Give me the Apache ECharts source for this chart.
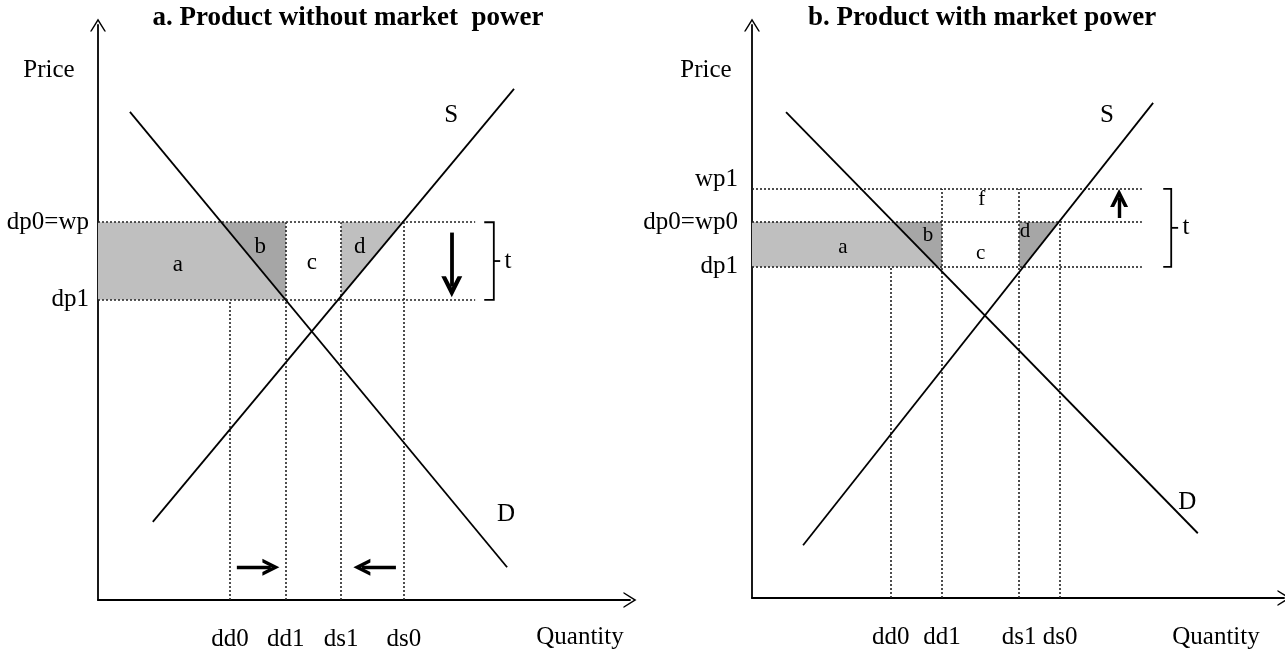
<!DOCTYPE html>
<html>
<head>
<meta charset="utf-8">
<script src="https://cdn.jsdelivr.net/npm/echarts@6/dist/echarts.min.js"></script>
<style>
  html, body { margin: 0; padding: 0; background: #fff; }
  #main { width: 1285px; height: 653px; }
</style>
</head>
<body>
<div id="main"></div>
<script>
// both panels use axis units 0-100 on each axis

// a. product without market power
var priceNamesA = ['dp0=wp', 'dp1'];
var priceLevelsA = [65.7, 52.2];
var qtyNamesA = ['dd0', 'dd1', 'ds1', 'ds0'];
var qtyLevelsA = [24.8, 35.3, 45.7, 57.5];
var qtyTopA = [1, 0, 0, 0];          // which price level each dotted vertical reaches
var demandA = [[6.0, 84.9], [76.9, 5.7]];
var supplyA = [[10.3, 13.6], [78.2, 88.9]];
var letterNamesA = ['a', 'b', 'c', 'd'];
var letterPosA = [[15.0, 58.3], [30.5, 61.4], [40.2, 58.6], [49.2, 61.4]];

// b. product with market power
var priceNamesB = ['wp1', 'dp0=wp0', 'dp1'];
var priceLevelsB = [71.4, 65.6, 57.8];
var qtyNamesB = ['dd0', 'dd1', 'ds1', 'ds0'];
var qtyLevelsB = [26.1, 35.7, 50.2, 57.9];
var qtyTopB = [2, 0, 0, 1];
var demandB = [[6.4, 84.8], [83.8, 11.3]];
var supplyB = [[9.6, 9.2], [75.4, 86.4]];
var letterNamesB = ['f', 'a', 'b', 'c', 'd'];
var letterPosB = [[43.2, 69.5], [17.1, 61.1], [33.1, 63.2], [43.0, 60.2], [51.3, 63.9]];

var FONT = 'Liberation Serif';
var LIGHT = '#bfbfbf';
var DARK = '#a6a6a6';
var axisArrow = 'path://M0,13 L8,0 L16,13 L14.4,13 L8,2.8 L1.6,13 Z';
var boldArrow = 'path://M0,15 L9,0 L18,15 L14,15 L9,6.8 L4,15 Z';

function xAt(line, y) {
  var p = line[0], q = line[1];
  return p[0] + (y - p[1]) * (q[0] - p[0]) / (q[1] - p[1]);
}

function nameOf(levels, names, v) {
  var i = levels.indexOf(v);
  return i >= 0 ? names[i] : '';
}

function xAxisFor(i, levels, names) {
  return {
    type: 'value', gridIndex: i, min: 0, max: 100,
    splitLine: { show: false },
    axisTick: { show: false },
    axisLine: { onZero: false, symbol: ['none', axisArrow], symbolSize: [16, 13],
      lineStyle: { color: '#000', width: 1.8 } },
    axisLabel: {
      customValues: levels, margin: 27, color: '#000',
      fontFamily: FONT, fontSize: 25,
      formatter: function (v) { return nameOf(levels, names, v); }
    }
  };
}

function yAxisFor(i, levels, names, margin) {
  return {
    type: 'value', gridIndex: i, min: 0, max: 100,
    splitLine: { show: false },
    axisTick: { show: false },
    axisLine: { onZero: false, symbol: ['none', axisArrow], symbolSize: [16, 13],
      lineStyle: { color: '#000', width: 1.8 } },
    axisLabel: {
      customValues: levels, margin: margin, color: '#000',
      fontFamily: FONT, fontSize: 25,
      formatter: function (v) {
        var n = nameOf(levels, names, v);
        return n === 'wp1' ? '{up|' + n + '}' : n;
      },
      rich: { up: { fontFamily: FONT, fontSize: 25, color: '#000', padding: [0, 0, 18, 0] } }
    }
  };
}

function panelSeries(i, p) {
  var top = p.prices[p.topIdx], bottom = p.prices[p.prices.length - 1];
  var dp0 = p.prices[p.dp0Idx];
  var dd1 = p.qty[1], ds1 = p.qty[2];
  var regions = [
    { pts: [[0, bottom], [0, dp0], [xAt(p.demand, dp0), dp0], [xAt(p.demand, bottom), bottom]], fill: LIGHT },
    { pts: [[xAt(p.demand, dp0), dp0], [dd1, dp0], [dd1, bottom], [xAt(p.demand, bottom), bottom]], fill: DARK },
    { pts: [[ds1, dp0], [xAt(p.supply, dp0), dp0], [xAt(p.supply, bottom), bottom], [ds1, bottom]], fill: p.dFill }
  ];

  var dots = [];
  p.prices.forEach(function (lv) { dots.push({ coords: [[0, lv], [p.dotEnd, lv]] }); });
  p.qty.forEach(function (q, k) { dots.push({ coords: [[q, 0], [q, p.prices[p.qtyTop[k]]]] }); });

  var mid = (top + bottom) / 2;
  var br = p.bracket;
  var txt = { color: '#000', fontFamily: FONT, textBorderWidth: 0 };
  var list = [
    {
      type: 'custom', xAxisIndex: i, yAxisIndex: i, z: 1, silent: true,
      data: regions.map(function (r, k) { return [r.pts[0][0], r.pts[0][1], k]; }),
      renderItem: function (params, api) {
        var r = regions[api.value(2)];
        return {
          type: 'polygon',
          shape: { points: r.pts.map(function (pt) { return api.coord(pt); }) },
          style: { fill: r.fill }
        };
      }
    },
    {
      type: 'lines', coordinateSystem: 'cartesian2d', xAxisIndex: i, yAxisIndex: i, z: 2,
      lineStyle: { color: '#222', width: 1.6, type: [2, 2], opacity: 1 },
      data: dots
    },
    {
      type: 'line', xAxisIndex: i, yAxisIndex: i, z: 3, symbol: 'none',
      lineStyle: { color: '#000', width: 1.8 }, data: p.demand
    },
    {
      type: 'line', xAxisIndex: i, yAxisIndex: i, z: 3, symbol: 'none',
      lineStyle: { color: '#000', width: 1.8 }, data: p.supply
    },
    {
      type: 'lines', coordinateSystem: 'cartesian2d', xAxisIndex: i, yAxisIndex: i, z: 3,
      polyline: true,
      lineStyle: { color: '#000', width: 1.8, opacity: 1 },
      data: [
        { coords: [[br[0], top], [br[1], top], [br[1], bottom], [br[0], bottom]] },
        { coords: [[br[1], mid], [br[2], mid]] }
      ]
    },
    {
      type: 'scatter', xAxisIndex: i, yAxisIndex: i, z: 5, symbolSize: 0, silent: true,
      itemStyle: { opacity: 1 },
      label: Object.assign({ show: true, position: 'inside', formatter: '{b}', fontSize: p.letterSize }, txt),
      data: p.letterPos.map(function (pos, k) { return { name: p.letterNames[k], value: pos }; })
        .concat([
          { name: 'S', value: p.sPos, label: { fontSize: 25 } },
          { name: 'D', value: p.dPos, label: { fontSize: 25 } },
          { name: 't', value: [br[2] + 0.8, mid], label: { fontSize: 25, position: 'right', distance: 0 } }
        ])
    }
  ];
  p.arrows.forEach(function (a) {
    list.push({
      type: 'lines', coordinateSystem: 'cartesian2d', xAxisIndex: i, yAxisIndex: i, z: 4,
      symbol: ['none', boldArrow], symbolSize: a.size,
      lineStyle: { color: '#000', width: a.width, opacity: 1 },
      data: [{ coords: a.coords }]
    });
  });
  return list;
}

var seriesA = panelSeries(0, {
  prices: priceLevelsA, qty: qtyLevelsA, qtyTop: qtyTopA, topIdx: 0, dp0Idx: 0,
  demand: demandA, supply: supplyA, dFill: LIGHT, dotEnd: 70.9,
  bracket: [72.6, 74.4, 75.6],
  arrows: [
    { coords: [[66.5, priceLevelsA[0] - 1.8], [66.5, priceLevelsA[1] + 2.3]], size: 21, width: 3.8 },
    { coords: [[qtyLevelsA[0] + 1.3, 5.7], [qtyLevelsA[1] - 2.8], ], size: 17, width: 3.4 },
    { coords: [[qtyLevelsA[3] - 1.5, 5.7], [qtyLevelsA[2] + 3.9, 5.7]], size: 17, width: 3.4 }
  ],
  letterNames: letterNamesA, letterPos: letterPosA, letterSize: 23,
  sPos: [66.4, 84.3], dPos: [76.7, 14.8]
});
seriesA[7].data[0].coords[1] = [qtyLevelsA[1] - 2.8, 5.7];

var seriesB = panelSeries(1, {
  prices: priceLevelsB, qty: qtyLevelsB, qtyTop: qtyTopB, topIdx: 0, dp0Idx: 1,
  demand: demandB, supply: supplyB, dFill: DARK, dotEnd: 73.3,
  bracket: [77.3, 78.8, 80.1],
  arrows: [
    { coords: [[69.0, priceLevelsB[1] + 0.7], [69.0, priceLevelsB[0] - 1.6]], size: 18, width: 3.4 }
  ],
  letterNames: letterNamesB, letterPos: letterPosB, letterSize: 21,
  sPos: [66.7, 84.3], dPos: [81.8, 16.6]
});

var chart = echarts.init(document.getElementById('main'));
chart.setOption({
  animation: false,
  backgroundColor: '#fff',
  title: [
    { text: 'a. Product without market  power', left: 343, top: 0, textAlign: 'center',
      textStyle: { fontFamily: FONT, fontSize: 27, fontWeight: 'bold', color: '#000' } },
    { text: 'b. Product with market power', left: 977, top: 0, textAlign: 'center',
      textStyle: { fontFamily: FONT, fontSize: 27, fontWeight: 'bold', color: '#000' } }
  ],
  grid: [
    { left: 98, top: 25, width: 532, height: 575 },
    { left: 752, top: 25, width: 532, height: 573 }
  ],
  xAxis: [
    xAxisFor(0, qtyLevelsA, qtyNamesA),
    xAxisFor(1, qtyLevelsB, qtyNamesB)
  ],
  yAxis: [
    yAxisFor(0, priceLevelsA, priceNamesA, 9),
    yAxisFor(1, priceLevelsB, priceNamesB, 14)
  ],
  graphic: [
    { type: 'text', style: { x: 49, y: 70, text: 'Price', align: 'center', verticalAlign: 'middle',
      fontFamily: FONT, fontSize: 25, fill: '#000' } },
    { type: 'text', style: { x: 706, y: 70, text: 'Price', align: 'center', verticalAlign: 'middle',
      fontFamily: FONT, fontSize: 25, fill: '#000' } },
    { type: 'text', style: { x: 580, y: 637, text: 'Quantity', align: 'center', verticalAlign: 'middle',
      fontFamily: FONT, fontSize: 25, fill: '#000' } },
    { type: 'text', style: { x: 1216, y: 637, text: 'Quantity', align: 'center', verticalAlign: 'middle',
      fontFamily: FONT, fontSize: 25, fill: '#000' } }
  ],
  series: seriesA.concat(seriesB)
});
</script>
</body>
</html>
